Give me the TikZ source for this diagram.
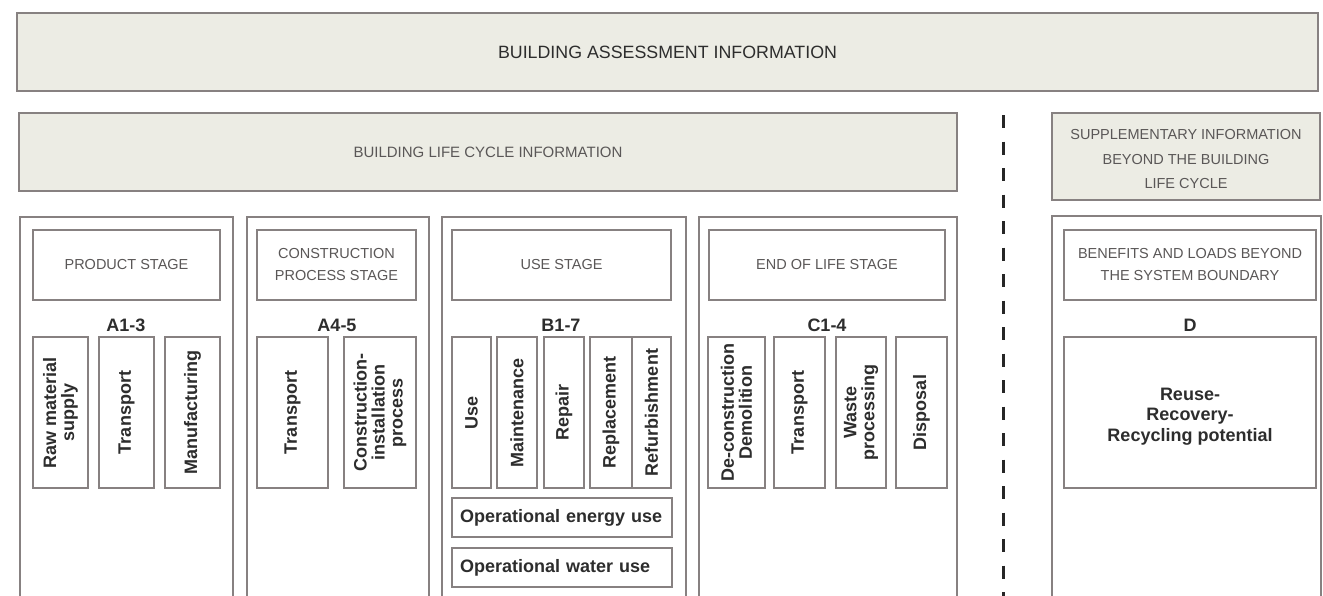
\documentclass[tikz,border=0pt]{standalone}
\usepackage{fontspec}
\setmainfont{Liberation Sans}
\definecolor{bfill}{RGB}{236,236,228}
\definecolor{bline}{RGB}{135,129,129}
\definecolor{tdark}{RGB}{45,45,45}
\definecolor{tgrey}{RGB}{90,87,87}
\newcommand\hbx[7]{\node[#6, minimum width={(#4-#2)*1pt}, minimum height={(#5-#3)*1pt}] (#1) at ({(#2+#4)/2},{(#3+#5)/2}) {#7};}
\newcommand\vbx[7]{\node[#6, rotate=90, minimum width={(#5-#3)*1pt}, minimum height={(#4-#2)*1pt}] (#1) at ({(#2+#4)/2},{(#3+#5)/2}) {#7};}
\begin{document}
\begin{tikzpicture}[x=1pt,y=-1pt,
  base/.style={draw=bline, inner sep=0pt, outer sep=0pt, align=center},
  infobox/.style={base, fill=bfill, line width=2.4pt},
  stagebox/.style={base, fill=white, line width=1.6pt},
  hdrbox/.style={base, fill=white, line width=1.6pt, text=tgrey, font=\fontsize{14.5}{22}\selectfont},
  itembox/.style={base, fill=white, line width=1.6pt, text=tdark, font=\fontsize{18}{18}\selectfont\bfseries},
  opbox/.style={base, fill=white, line width=1.6pt, text=tdark, font=\fontsize{18}{20}\selectfont\bfseries, align=left, text width={(#1)*1pt}},
  code/.style={inner sep=0pt, text=tdark, font=\fontsize{18}{18}\selectfont\bfseries}]
\useasboundingbox (0,0) rectangle (1323,595);
\fill[white] (0,0) rectangle (1323,595);
\clip (0,0) rectangle (1323,595);
% top rows
\hbx{bai}{17}{13}{1318}{91}{infobox, text=tdark, font=\fontsize{17.8}{20}\selectfont}{BUILDING ASSESSMENT INFORMATION}
\hbx{blc}{19}{113}{957}{191}{infobox, text=tgrey, font=\fontsize{15}{20}\selectfont}{BUILDING LIFE CYCLE INFORMATION}
\hbx{sup}{1052}{113}{1320}{200}{infobox, text=tgrey, font=\fontsize{14.5}{24.5}\selectfont}{\rule{0pt}{16pt}SUPPLEMENTARY INFORMATION\\BEYOND THE BUILDING\\LIFE CYCLE}
% dashed boundary
\coordinate (dtop) at (1003,115);
\coordinate (dbot) at (1003,600);
\draw[line width=3pt, black!85, dash pattern=on 13pt off 13.5pt] (dtop) -- (dbot);
% stage columns
\hbx{colA}{20}{217}{233}{640}{stagebox}{}
\hbx{colC}{247}{217}{429}{640}{stagebox}{}
\hbx{colB}{442}{217}{686}{640}{stagebox}{}
\hbx{colE}{699}{217}{957}{640}{stagebox}{}
\hbx{colD}{1052}{216}{1321}{640}{stagebox}{}
% headers
\hbx{hA}{33}{230}{220}{300}{hdrbox}{PRODUCT STAGE}
\hbx{hC}{257}{230}{416}{300}{hdrbox}{CONSTRUCTION\\PROCESS STAGE}
\hbx{hB}{452}{230}{671}{300}{hdrbox}{USE STAGE}
\hbx{hE}{709}{230}{945}{300}{hdrbox}{END OF LIFE STAGE}
\hbx{hD}{1064}{230}{1316}{300}{hdrbox}{BENEFITS AND LOADS BEYOND\\THE SYSTEM BOUNDARY}
% codes
\node[code] (cA) at (126,325) {A1-3};
\node[code] (cC) at (337,325) {A4-5};
\node[code] (cB) at (561,325) {B1-7};
\node[code] (cE) at (827,325) {C1-4};
\node[code] (cD) at (1190,325) {D};
% product stage
\vbx{a1}{33}{337}{88}{488}{itembox}{Raw material\\supply}
\vbx{a2}{99}{337}{154}{488}{itembox}{Transport}
\vbx{a3}{165}{337}{220}{488}{itembox}{Manufacturing}
% construction stage
\vbx{a4}{257}{337}{328}{488}{itembox}{Transport}
\vbx{a5}{344}{337}{416}{488}{itembox}{Construction-\\installation\\process}
% use stage
\vbx{b1}{452}{337}{491}{488}{itembox}{Use}
\vbx{b2}{497}{337}{537}{488}{itembox}{Maintenance}
\vbx{b3}{544}{337}{584}{488}{itembox}{Repair}
\vbx{b4}{590}{337}{632}{488}{itembox}{Replacement}
\vbx{b5}{632}{337}{671}{488}{itembox}{Refurbishment}
\hbx{b6}{452}{498}{672}{537}{opbox=204}{Operational energy use}
\hbx{b7}{452}{548}{672}{587}{opbox=204}{Operational water use}
% end of life stage
\vbx{c1}{708}{337}{765}{488}{itembox}{De-construction\\Demolition}
\vbx{c2}{774}{337}{825}{488}{itembox}{Transport}
\vbx{c3}{836}{337}{886}{488}{itembox}{Waste\\processing}
\vbx{c4}{896}{337}{947}{488}{itembox}{Disposal}
% module D
\hbx{d1}{1064}{337}{1316}{488}{itembox, font=\fontsize{18}{20.5}\selectfont\bfseries}{\rule{0pt}{20pt}Reuse-\\Recovery-\\Recycling potential}
\end{tikzpicture}
\end{document}
